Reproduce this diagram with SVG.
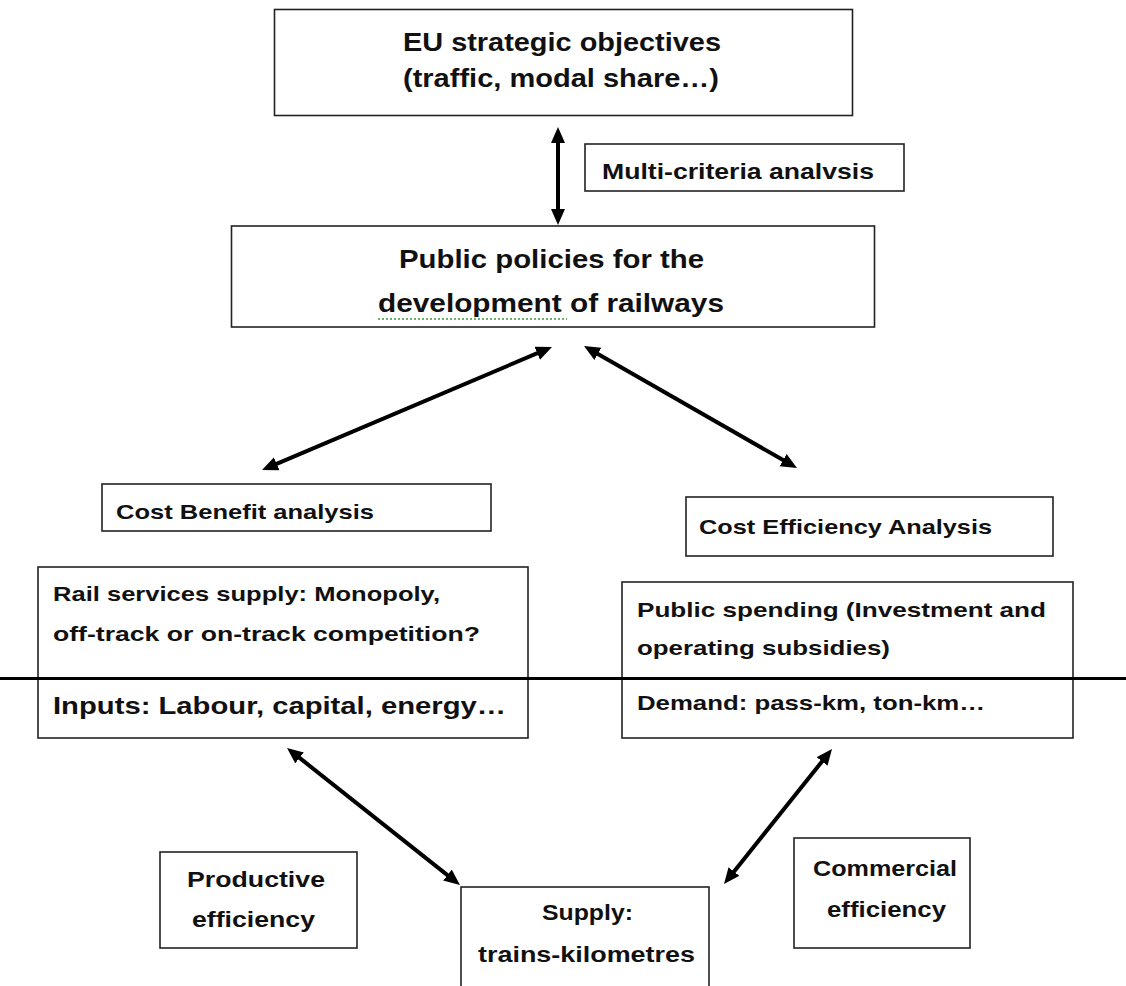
<svg xmlns="http://www.w3.org/2000/svg" width="1126" height="986" viewBox="0 0 1126 986">
  <style>
    .box { fill: #ffffff; stroke: #222222; stroke-width: 1.6; }
    .t { font-family: "Liberation Sans", Arial, sans-serif; font-weight: bold; fill: #111111; }
    .conn { stroke: #000000; stroke-width: 4; fill: none; marker-start: url(#arr); marker-end: url(#arr); }
  </style>
  <defs>
    <marker id="arr" markerUnits="userSpaceOnUse" markerWidth="17" markerHeight="15" refX="4" refY="7" orient="auto-start-reverse" viewBox="0 0 17 15">
      <path d="M0,0 L16,7 L0,14 z" fill="#000000"/>
    </marker>
  </defs>
  <rect x="0" y="0" width="1126" height="986" fill="#ffffff"/>

  <g id="eu-objectives">
    <rect class="box" x="274.5" y="9.5" width="578" height="106"/>
    <text class="t" x="403" y="51" font-size="25" textLength="318" lengthAdjust="spacingAndGlyphs">EU strategic objectives</text>
    <text class="t" x="403" y="87" font-size="25" textLength="316" lengthAdjust="spacingAndGlyphs">(traffic, modal share…)</text>
  </g>

  <g id="multi-criteria">
    <rect class="box" x="585" y="144" width="319" height="47"/>
    <text class="t" x="602" y="179" font-size="22" textLength="272" lengthAdjust="spacingAndGlyphs">Multi-criteria analvsis</text>
  </g>

  <g id="public-policies">
    <rect class="box" x="231.5" y="226" width="643" height="101"/>
    <text class="t" x="399" y="268" font-size="26" textLength="305" lengthAdjust="spacingAndGlyphs">Public policies for the</text>
    <text class="t" x="378" y="312" font-size="26" textLength="346" lengthAdjust="spacingAndGlyphs">development of railways</text>
    <line x1="378" y1="319" x2="567" y2="319" stroke="#3c9a3c" stroke-width="1.5" stroke-dasharray="2,2"/>
  </g>

  <g id="cost-benefit">
    <rect class="box" x="102" y="484" width="389" height="47"/>
    <text class="t" x="116" y="519" font-size="21" textLength="258" lengthAdjust="spacingAndGlyphs">Cost Benefit analysis</text>
  </g>

  <g id="cost-efficiency">
    <rect class="box" x="686" y="497" width="367" height="59"/>
    <text class="t" x="699" y="534" font-size="21" textLength="293" lengthAdjust="spacingAndGlyphs">Cost Efficiency Analysis</text>
  </g>

  <g id="rail-services">
    <rect class="box" x="38" y="567" width="490" height="171"/>
    <text class="t" x="53" y="601" font-size="21" textLength="387" lengthAdjust="spacingAndGlyphs">Rail services supply: Monopoly,</text>
    <text class="t" x="53" y="641" font-size="21" textLength="427" lengthAdjust="spacingAndGlyphs">off-track or on-track competition?</text>
    <text class="t" x="53" y="714" font-size="23" textLength="453" lengthAdjust="spacingAndGlyphs">Inputs: Labour, capital, energy…</text>
  </g>

  <g id="public-spending">
    <rect class="box" x="622" y="582" width="451" height="156"/>
    <text class="t" x="637" y="617" font-size="21" textLength="409" lengthAdjust="spacingAndGlyphs">Public spending (Investment and</text>
    <text class="t" x="637" y="655" font-size="21" textLength="253" lengthAdjust="spacingAndGlyphs">operating subsidies)</text>
    <text class="t" x="637" y="710" font-size="21" textLength="348" lengthAdjust="spacingAndGlyphs">Demand: pass-km, ton-km…</text>
  </g>

  <g id="divider">
    <line x1="0" y1="678.5" x2="1126" y2="678.5" stroke="#000000" stroke-width="3"/>
  </g>

  <g id="productive-efficiency">
    <rect class="box" x="160" y="852" width="197" height="96"/>
    <text class="t" x="187" y="887" font-size="22" textLength="138" lengthAdjust="spacingAndGlyphs">Productive</text>
    <text class="t" x="192" y="927" font-size="22" textLength="123" lengthAdjust="spacingAndGlyphs">efficiency</text>
  </g>

  <g id="supply">
    <rect class="box" x="461" y="887" width="248" height="110"/>
    <text class="t" x="542" y="920" font-size="22" textLength="91" lengthAdjust="spacingAndGlyphs">Supply:</text>
    <text class="t" x="478" y="962" font-size="22" textLength="217" lengthAdjust="spacingAndGlyphs">trains-kilometres</text>
  </g>

  <g id="commercial-efficiency">
    <rect class="box" x="794" y="838" width="176" height="110"/>
    <text class="t" x="813" y="876" font-size="22" textLength="144" lengthAdjust="spacingAndGlyphs">Commercial</text>
    <text class="t" x="827" y="917" font-size="22" textLength="119" lengthAdjust="spacingAndGlyphs">efficiency</text>
  </g>

  <g id="connectors">
    <line class="conn" x1="558" y1="139" x2="558" y2="213"/>
    <line class="conn" x1="540.95" y1="351.69" x2="273.05" y2="465.31"/>
    <line class="conn" x1="594.41" y1="351.96" x2="786.59" y2="462.04"/>
    <line class="conn" x1="296.43" y1="755.42" x2="450.57" y2="877.58"/>
    <line class="conn" x1="824.50" y1="758.37" x2="731.50" y2="874.63"/>
  </g>
</svg>
